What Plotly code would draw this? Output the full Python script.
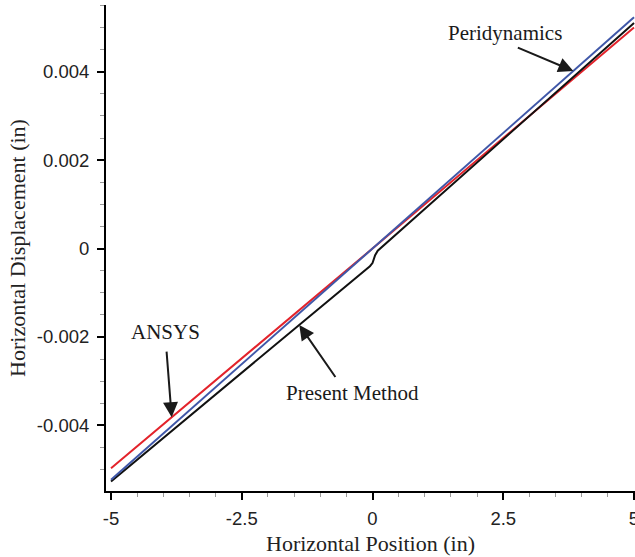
import numpy as np
import plotly.graph_objects as go

# Horizontal displacement along the bar for three solution methods
x_ansys = [-5.0, 0.0, 5.0]
u_ansys = [-0.00497, 0.0, 0.00500]

x_peri = [-5.0, 0.0, 5.0]
u_peri = [-0.00523, 0.0, 0.00523]

x_present = [-5.0, -3.3, -1.33, -0.05, 0.0, 0.05, 0.1, 2.05, 5.0]
u_present = [-0.00527, -0.00360, -0.00166, -0.00040, -0.00033, -0.00015, -0.00005, 0.00200, 0.00510]

x_ticks = [-5, -2.5, 0, 2.5, 5]
x_tick_text = ["-5", "-2.5", "0", "2.5", "5"]
y_ticks = [-0.004, -0.002, 0.0, 0.002, 0.004]
y_tick_text = ["-0.004", "-0.002", "0", "0.002", "0.004"]

SERIF = "Liberation Serif, Times New Roman, serif"
SANS = "Liberation Sans, Arial, sans-serif"

fig = go.Figure()
fig.add_trace(go.Scatter(x=x_ansys, y=u_ansys, mode="lines", name="ANSYS",
                         line=dict(color="#e3232b", width=2)))
fig.add_trace(go.Scatter(x=x_present, y=u_present, mode="lines", name="Present Method",
                         line=dict(color="#111111", width=2)))
fig.add_trace(go.Scatter(x=x_peri, y=u_peri, mode="lines", name="Peridynamics",
                         line=dict(color="#3f57a8", width=2)))

# Labels with arrows pointing at their curves
labels = [
    # text, text position, arrow tail, arrow head x, curve
    ("Peridynamics", (2.54, 0.00487), (2.75, 0.00456), 3.84, (x_peri, u_peri)),
    ("ANSYS", (-3.95, -0.00189), (-3.94, -0.00230), -3.84, (x_ansys, u_ansys)),
    ("Present Method", (-0.38, -0.00327), (-0.69, -0.00294), -1.40, (x_present, u_present)),
]
for text, (tx, ty), (ax, ay), hx, (cx, cy) in labels:
    fig.add_annotation(x=tx, y=ty, text=text, showarrow=False,
                       font=dict(family=SERIF, size=21, color="#1a1a1a"),
                       xanchor="center", yanchor="middle")
    hy = float(np.interp(hx, cx, cy))
    fig.add_annotation(x=hx, y=hy, ax=ax, ay=ay, axref="x", ayref="y",
                       text="", showarrow=True, arrowhead=2, arrowsize=1.5,
                       arrowwidth=2, arrowcolor="#1a1a1a")

axis_common = dict(
    showline=True, linecolor="black", linewidth=2,
    showgrid=False, zeroline=False,
    ticks="outside", ticklen=7, tickwidth=2, tickcolor="black",
    tickfont=dict(family=SANS, size=18.5, color="#222222"),
    ticklabeloverflow="allow",
    automargin=False,
)

fig.update_xaxes(
    range=[-5.096, 5.019], tickvals=x_ticks, ticktext=x_tick_text,
    minor=dict(dtick=0.5, ticks="outside", ticklen=4, tickwidth=1, tickcolor="#999999"),
    ticklabelstandoff=3,
    title=dict(text="Horizontal Position (in)", font=dict(family=SERIF, size=22, color="#222222"),
               standoff=7),
    **axis_common,
)
fig.update_yaxes(
    range=[-0.005486, 0.005509], tickvals=y_ticks, ticktext=y_tick_text,
    minor=dict(dtick=0.0005, ticks="outside", ticklen=4, tickwidth=1, tickcolor="#999999"),
    ticklabelstandoff=4,
    title=dict(text="Horizontal Displacement (in)", font=dict(family=SERIF, size=22, color="#222222"),
               standoff=5),
    **axis_common,
)

fig.update_layout(
    width=635, height=557,
    margin=dict(l=106, r=0, t=5, b=66),
    paper_bgcolor="white", plot_bgcolor="white",
    showlegend=False,
)

fig.write_html("out.html")
